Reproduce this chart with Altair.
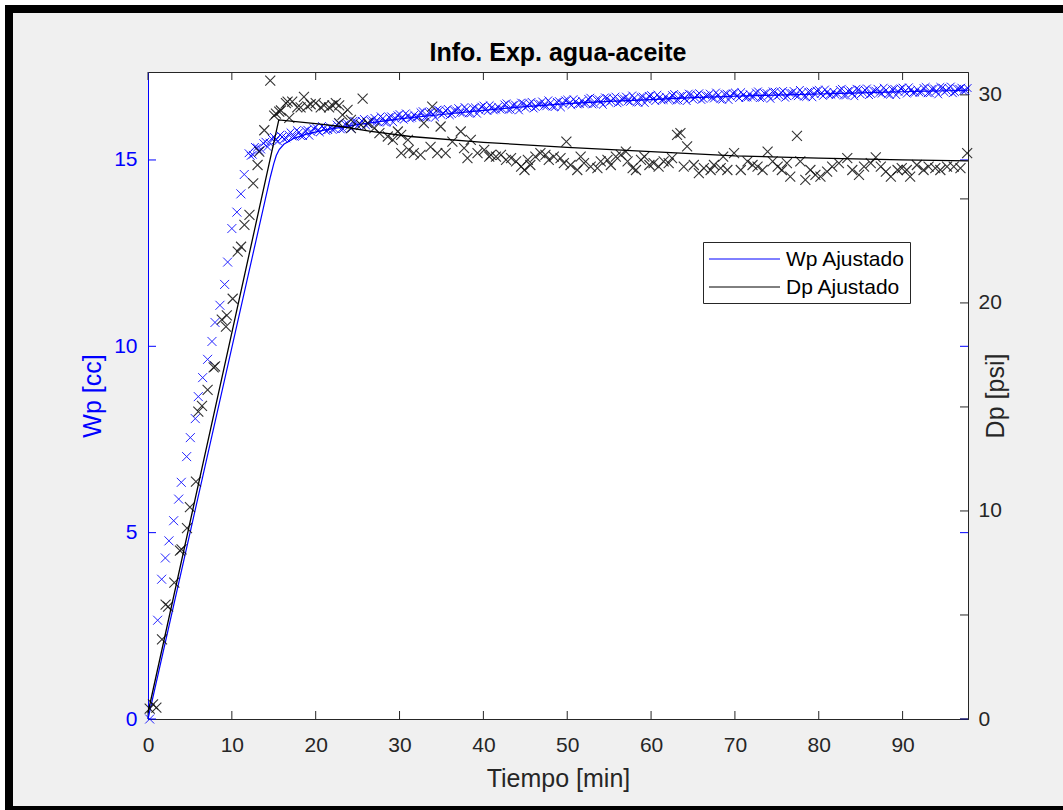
import altair as alt
import pandas as pd

# ---------------- data ----------------
series_names = ["Wp Ajustado", "Dp Ajustado"]
x_ticks = [0, 10, 20, 30, 40, 50, 60, 70, 80, 90]
wp_ticks = [0, 5, 10, 15]
dp_ticks = [0, 10, 20, 30]
dp_minor = [0, 5, 10, 15, 20, 25, 30]

# Wp measured (early, sparse part)
wp_t_early = [0.2, 1.15, 1.63, 2.07, 2.5, 3.06, 3.66, 3.97, 4.61, 5.05, 5.64, 6.0,
              6.52, 7.11, 7.63, 7.99, 8.58, 9.14, 9.5, 10.0, 10.6, 11.08, 11.48]
wp_early = [0.0, 2.65, 3.75, 4.32, 4.78, 5.32, 5.9, 6.35, 7.04, 7.55, 8.06, 8.65,
            9.16, 9.65, 10.13, 10.64, 11.1, 11.66, 12.26, 13.16, 13.6, 14.09, 14.61]

# Wp measured (dense band), first row of samples
wp_t_band = [12.0, 12.5, 13.0, 13.5, 14.0, 14.5, 15.0, 15.5, 16.0, 16.5,
             17.0, 17.5, 18.0, 18.5, 19.0, 19.5, 20.0, 20.5, 21.0, 21.5,
             22.0, 22.5, 23.0, 23.5, 24.0, 24.5, 25.0, 25.5, 26.0, 26.5,
             27.0, 27.5, 28.0, 28.5, 29.0, 29.5, 30.0, 30.5, 31.0, 31.5,
             32.0, 32.5, 33.0, 33.5, 34.0, 34.5, 35.0, 35.5, 36.0, 36.5,
             37.0, 37.5, 38.0, 38.5, 39.0, 39.5, 40.0, 40.5, 41.0, 41.5,
             42.0, 42.5, 43.0, 43.5, 44.0, 44.5, 45.0, 45.5, 46.0, 46.5,
             47.0, 47.5, 48.0, 48.5, 49.0, 49.5, 50.0, 50.5, 51.0, 51.5,
             52.0, 52.5, 53.0, 53.5, 54.0, 54.5, 55.0, 55.5, 56.0, 56.5,
             57.0, 57.5, 58.0, 58.5, 59.0, 59.5, 60.0, 60.5, 61.0, 61.5,
             62.0, 62.5, 63.0, 63.5, 64.0, 64.5, 65.0, 65.5, 66.0, 66.5,
             67.0, 67.5, 68.0, 68.5, 69.0, 69.5, 70.0, 70.5, 71.0, 71.5,
             72.0, 72.5, 73.0, 73.5, 74.0, 74.5, 75.0, 75.5, 76.0, 76.5,
             77.0, 77.5, 78.0, 78.5, 79.0, 79.5, 80.0, 80.5, 81.0, 81.5,
             82.0, 82.5, 83.0, 83.5, 84.0, 84.5, 85.0, 85.5, 86.0, 86.5,
             87.0, 87.5, 88.0, 88.5, 89.0, 89.5, 90.0, 90.5, 91.0, 91.5,
             92.0, 92.5, 93.0, 93.5, 94.0, 94.5, 95.0, 95.5, 96.0, 96.5,
             97.0, 97.5]
wp_band = [15.18, 15.14, 15.33, 15.28, 15.49, 15.46, 15.62, 15.50, 15.62, 15.58,
           15.74, 15.62, 15.74, 15.64, 15.81, 15.75, 15.88, 15.74, 15.85, 15.80,
           15.81, 15.95, 15.82, 15.96, 15.91, 16.05, 15.92, 16.05, 15.93, 16.06,
           16.13, 16.01, 16.11, 16.01, 16.17, 16.11, 16.23, 16.08, 16.19, 16.13,
           16.14, 16.28, 16.14, 16.27, 16.22, 16.35, 16.21, 16.33, 16.20, 16.33,
           16.39, 16.26, 16.36, 16.25, 16.41, 16.34, 16.46, 16.31, 16.41, 16.35,
           16.36, 16.49, 16.34, 16.47, 16.41, 16.54, 16.40, 16.52, 16.38, 16.51,
           16.57, 16.44, 16.53, 16.42, 16.58, 16.51, 16.62, 16.47, 16.57, 16.50,
           16.51, 16.64, 16.49, 16.62, 16.56, 16.68, 16.54, 16.65, 16.52, 16.64,
           16.70, 16.56, 16.66, 16.54, 16.70, 16.62, 16.74, 16.58, 16.68, 16.61,
           16.62, 16.74, 16.59, 16.72, 16.65, 16.78, 16.63, 16.74, 16.61, 16.73,
           16.78, 16.65, 16.74, 16.62, 16.78, 16.70, 16.81, 16.66, 16.75, 16.68,
           16.69, 16.81, 16.66, 16.79, 16.72, 16.84, 16.70, 16.81, 16.67, 16.80,
           16.85, 16.71, 16.81, 16.69, 16.84, 16.77, 16.88, 16.72, 16.82, 16.75,
           16.75, 16.88, 16.73, 16.85, 16.79, 16.91, 16.76, 16.88, 16.74, 16.86,
           16.91, 16.78, 16.87, 16.75, 16.91, 16.83, 16.94, 16.78, 16.88, 16.81,
           16.81, 16.93, 16.79, 16.91, 16.84, 16.96, 16.82, 16.93, 16.79, 16.91,
           16.94, 16.86]

# Wp measured (dense band), interleaved second row of samples
wp_t_band2 = [12.25, 12.75, 13.25, 13.75, 14.25, 14.75, 15.25, 15.75, 16.25, 16.75,
              17.25, 17.75, 18.25, 18.75, 19.25, 19.75, 20.25, 20.75, 21.25, 21.75,
              22.25, 22.75, 23.25, 23.75, 24.25, 24.75, 25.25, 25.75, 26.25, 26.75,
              27.25, 27.75, 28.25, 28.75, 29.25, 29.75, 30.25, 30.75, 31.25, 31.75,
              32.25, 32.75, 33.25, 33.75, 34.25, 34.75, 35.25, 35.75, 36.25, 36.75,
              37.25, 37.75, 38.25, 38.75, 39.25, 39.75, 40.25, 40.75, 41.25, 41.75,
              42.25, 42.75, 43.25, 43.75, 44.25, 44.75, 45.25, 45.75, 46.25, 46.75,
              47.25, 47.75, 48.25, 48.75, 49.25, 49.75, 50.25, 50.75, 51.25, 51.75,
              52.25, 52.75, 53.25, 53.75, 54.25, 54.75, 55.25, 55.75, 56.25, 56.75,
              57.25, 57.75, 58.25, 58.75, 59.25, 59.75, 60.25, 60.75, 61.25, 61.75,
              62.25, 62.75, 63.25, 63.75, 64.25, 64.75, 65.25, 65.75, 66.25, 66.75,
              67.25, 67.75, 68.25, 68.75, 69.25, 69.75, 70.25, 70.75, 71.25, 71.75,
              72.25, 72.75, 73.25, 73.75, 74.25, 74.75, 75.25, 75.75, 76.25, 76.75,
              77.25, 77.75, 78.25, 78.75, 79.25, 79.75, 80.25, 80.75, 81.25, 81.75,
              82.25, 82.75, 83.25, 83.75, 84.25, 84.75, 85.25, 85.75, 86.25, 86.75,
              87.25, 87.75, 88.25, 88.75, 89.25, 89.75, 90.25, 90.75, 91.25, 91.75,
              92.25, 92.75, 93.25, 93.75, 94.25, 94.75, 95.25, 95.75, 96.25, 96.75,
              97.25, 97.75]
wp_band2 = [15.11, 15.35, 15.25, 15.45, 15.35, 15.57, 15.53, 15.67, 15.56, 15.68,
            15.63, 15.80, 15.64, 15.79, 15.65, 15.85, 15.78, 15.91, 15.78, 15.88,
            15.83, 15.99, 15.83, 15.98, 15.84, 16.04, 15.97, 16.10, 15.96, 16.07,
            16.02, 16.17, 16.01, 16.15, 16.01, 16.20, 16.12, 16.25, 16.11, 16.21,
            16.16, 16.31, 16.14, 16.29, 16.14, 16.33, 16.25, 16.37, 16.23, 16.33,
            16.27, 16.42, 16.25, 16.39, 16.24, 16.43, 16.35, 16.47, 16.33, 16.43,
            16.37, 16.52, 16.35, 16.49, 16.33, 16.52, 16.44, 16.56, 16.42, 16.51,
            16.45, 16.60, 16.43, 16.56, 16.41, 16.60, 16.52, 16.63, 16.49, 16.59,
            16.52, 16.67, 16.50, 16.63, 16.48, 16.66, 16.58, 16.70, 16.55, 16.65,
            16.58, 16.73, 16.55, 16.69, 16.53, 16.72, 16.63, 16.75, 16.60, 16.70,
            16.63, 16.77, 16.60, 16.73, 16.58, 16.76, 16.67, 16.79, 16.64, 16.73,
            16.67, 16.81, 16.63, 16.77, 16.61, 16.79, 16.71, 16.82, 16.67, 16.77,
            16.70, 16.84, 16.67, 16.80, 16.64, 16.83, 16.74, 16.85, 16.71, 16.80,
            16.73, 16.88, 16.70, 16.83, 16.68, 16.86, 16.77, 16.89, 16.74, 16.83,
            16.77, 16.91, 16.73, 16.87, 16.71, 16.89, 16.81, 16.92, 16.77, 16.86,
            16.80, 16.94, 16.76, 16.90, 16.74, 16.92, 16.83, 16.95, 16.80, 16.89,
            16.82, 16.96, 16.79, 16.92, 16.76, 16.94, 16.86, 16.97, 16.82, 16.91,
            16.85, 16.93]

# Dp measured
dp_t = [0.2, 0.6, 1.0, 1.67, 2.1, 2.4, 3.14, 3.81, 4.0, 4.65, 5.0, 5.72, 6.0, 6.44,
        7.11, 7.83, 8.0, 8.8, 9.3, 9.4, 10.1, 10.7, 11.1, 11.5, 12.1, 12.55, 13.07,
        13.27, 13.87, 14.58, 15.05, 15.26, 15.65, 15.85, 16.45, 16.65, 16.85, 17.2,
        17.8, 18.2, 18.6, 19.0, 19.4, 20.0, 20.6, 21.0, 21.6, 22.0, 22.4, 22.8, 22.8,
        23.2, 23.8, 24.2, 24.2, 25.4, 25.6, 26.2, 27.0, 27.6, 28.6, 29.2, 29.8, 30.2,
        30.2, 31.0, 31.1, 31.7, 32.5, 32.9, 33.7, 33.9, 34.5, 34.9, 35.5, 36.3, 37.3,
        37.7, 38.1, 38.5, 39.3, 40.1, 40.7, 40.9, 41.5, 42.1, 42.7, 43.3, 43.9, 44.5,
        44.9, 45.3, 45.6, 46.2, 46.8, 47.4, 47.8, 48.4, 49.2, 49.6, 49.9, 50.4, 51.2,
        51.6, 52.0, 52.8, 53.6, 54.0, 54.8, 55.2, 55.8, 56.4, 57.0, 57.2, 57.8, 58.2,
        58.8, 59.2, 59.8, 60.3, 60.9, 61.5, 62.1, 62.5, 63.1, 63.5, 63.9, 64.3, 65.1,
        65.7, 66.3, 67.1, 67.5, 68.3, 68.6, 69.1, 69.9, 70.7, 71.5, 72.1, 72.7, 73.3,
        73.9, 74.5, 75.1, 75.6, 76.2, 76.6, 77.4, 77.8, 78.4, 79.0, 79.6, 80.2, 81.0,
        81.6, 82.4, 83.4, 84.0, 84.8, 85.4, 86.2, 86.8, 87.4, 88.0, 88.6, 89.4, 89.9,
        90.5, 90.9, 91.7, 92.5, 93.1, 93.9, 94.5, 95.3, 96.1, 96.9, 97.7]
dp_v = [0.5, 0.7, 0.55, 3.83, 5.5, 5.4, 6.55, 8.09, 8.15, 9.17, 10.18, 11.41, 14.77, 15.05,
        15.82, 16.9, 16.95, 19.2, 18.86, 19.4, 20.2, 22.47, 22.7, 23.75, 24.23, 25.75, 26.63,
        27.27, 28.3, 30.69, 29.0, 29.1, 29.2, 29.25, 29.6, 29.68, 28.9, 29.68,
        29.4, 29.4, 29.9, 29.45, 29.55, 29.6, 29.4, 29.5, 29.4, 29.5, 29.6, 29.5, 28.64,
        29.04, 29.28, 28.4, 28.8, 28.56, 29.82, 28.64, 28.4, 28.16, 28.0, 27.84, 28.24, 28.08,
        27.2, 27.84, 27.36, 27.2, 27.12, 28.64, 27.5, 29.44, 27.2, 28.48, 27.2, 27.75, 28.24,
        27.44, 26.96, 27.84, 27.2, 27.36, 27.03, 27.12, 27.03, 27.12, 26.88, 26.96, 26.8, 26.55,
        26.39, 26.88, 26.63, 27.03, 27.2, 27.12, 26.88, 27.03, 26.96, 26.72, 27.75, 26.63, 26.39,
        27.03, 26.72, 26.55, 26.48, 26.8, 26.88, 26.63, 27.03, 27.12, 27.27, 26.8, 26.48, 26.39,
        26.88, 27.03, 26.63, 26.72, 26.55, 26.8, 26.72, 26.96, 28.08, 28.16, 26.55, 27.52, 26.63,
        26.24, 26.48, 26.39, 26.63, 26.48, 27.03, 26.39, 27.2, 26.39, 26.8, 26.63, 26.55, 26.39,
        27.27, 26.8, 26.55, 26.39, 26.72, 26.07, 28.03, 26.8, 25.91, 26.39, 26.15, 26.07, 26.31,
        26.55, 26.72, 26.96, 26.39, 26.15, 26.55, 26.72, 27.0, 26.55, 26.31, 26.07, 26.39, 26.48,
        26.39, 26.07, 26.63, 26.39, 26.55, 26.48, 26.39, 26.55, 26.55, 26.48, 27.2]

# Fitted curves
wp_fit_t = [0, 14.6, 15.0, 15.3, 15.65, 16.2, 17.4, 19, 21, 25, 30, 35, 40, 45, 50, 55,
            60, 65, 70, 75, 80, 85, 90, 97.8]
wp_fit = [0, 14.55, 14.9, 15.12, 15.28, 15.42, 15.58, 15.7, 15.8, 15.95, 16.1, 16.22,
          16.33, 16.43, 16.51, 16.57, 16.62, 16.67, 16.71, 16.74, 16.77, 16.8, 16.83, 16.87]
dp_fit_t = [0, 15.6, 20, 23, 26.6, 31.3, 40, 50, 60, 70, 80, 90, 97.8]
dp_fit = [0.3, 28.8, 28.62, 28.48, 28.25, 28.0, 27.72, 27.48, 27.27, 27.07, 26.96, 26.88, 26.83]

# ---------------- styling ----------------
BLUE = "#0000ff"
DARK = "#262626"
FONT = "Liberation Sans"
W, H = 820, 647
XPATH = "M-1,-1L1,1M1,-1L-1,1"
series_colors = [BLUE, "#000000"]

x_scale = alt.Scale(domain=[0, 97.8], nice=False, zero=False)
wp_scale = alt.Scale(domain=[0, 17.36], nice=False, zero=False)
dp_scale = alt.Scale(domain=[0, 31.1], nice=False, zero=False)

x_axis = alt.Axis(values=x_ticks, title="Tiempo [min]", ticks=False, grid=False,
                  domainColor=DARK, labelColor=DARK, labelFont=FONT, labelFontSize=21,
                  labelPadding=15, labelFlush=False, titleFont=FONT, titleFontSize=25,
                  titleFontWeight="normal", titleColor=DARK, titlePadding=11, format="d")
left_axis = alt.Axis(values=wp_ticks, title="Wp [cc]", orient="left", ticks=False, grid=False,
                     domainColor=BLUE, labelColor=BLUE, labelFont=FONT, labelFontSize=21,
                     labelPadding=11, labelFlush=False, titleFont=FONT, titleColor=BLUE,
                     titleFontSize=25, titleFontWeight="normal", titleAngle=270, titleX=-56,
                     titleY=H / 2, titleBaseline="middle", titleAlign="center", format="d")
right_axis = alt.Axis(values=dp_ticks, title="Dp [psi]", orient="right", ticks=False, grid=False,
                      domainColor=DARK, labelColor=DARK, labelFont=FONT, labelFontSize=21,
                      labelPadding=10, labelFlush=False, titleFont=FONT, titleColor=DARK,
                      titleFontSize=25, titleFontWeight="normal", titleAngle=270, titleX=27,
                      titleY=H / 2, titleBaseline="middle", titleAlign="center", format="d")

X = alt.X("t:Q", scale=x_scale, axis=x_axis)
stroke_enc = alt.Stroke("serie:N", scale=alt.Scale(domain=series_names, range=series_colors),
                        legend=None)

# ---------------- figure frame ----------------
frame_df = pd.DataFrame({"k": [0]})
def band(x, x2, y, y2, color, stroke=None):
    kw = {"color": color}
    if stroke is not None:
        kw.update(stroke=stroke, strokeWidth=1)
    return alt.Chart(frame_df).mark_rect(**kw).encode(
        x=alt.value(x), x2=alt.value(x2), y=alt.value(y), y2=alt.value(y2))

frames = alt.layer(
    band(-148, 915, -72, -67, "#ffffff"),
    band(-148, -143, -72, 738, "#ffffff"),
    band(-143, 915, -67, -59, "#000000"),
    band(-143, -135, -67, 738, "#000000"),
    band(-143, 915, 734, 738, "#000000"),
)

# ---------------- legend box (drawn) ----------------
legend_layers = [band(555.5, 762.5, 170.5, 231.5, "#ffffff", stroke=DARK)]
for i, name in enumerate(series_names):
    row_df = pd.DataFrame({"serie": [name]})
    yy = 187 + 28 * i
    legend_layers.append(
        alt.Chart(row_df).mark_rule(strokeWidth=1).encode(
            x=alt.value(561), x2=alt.value(632), y=alt.value(yy), stroke=stroke_enc))
    legend_layers.append(
        alt.Chart(row_df).mark_text(align="left", baseline="middle", font=FONT, fontSize=21,
                                    color="#000000").encode(
            x=alt.value(638), y=alt.value(yy + 1), text="serie:N"))
legend = alt.layer(*legend_layers)

# ---------------- x ticks ----------------
xt_df = pd.DataFrame({"t": x_ticks})
xticks_bottom = alt.Chart(xt_df).mark_rule(color=DARK, strokeWidth=1).encode(
    x=X, y=alt.value(H), y2=alt.value(H - 8))
xticks_top = alt.Chart(xt_df).mark_rule(color=DARK, strokeWidth=1).encode(
    x=X, y=alt.value(0), y2=alt.value(8))

# ---------------- left (Wp) ----------------
wp_early_df = pd.DataFrame({"t": wp_t_early, "v": wp_early})
wp_band_df = pd.DataFrame({"t": wp_t_band + wp_t_band2, "v": wp_band + wp_band2})
wp_fit_df = pd.DataFrame({"t": wp_fit_t, "v": wp_fit, "serie": series_names[0]})
wpt_df = pd.DataFrame({"v": wp_ticks})
YL = alt.Y("v:Q", scale=wp_scale, axis=left_axis)

wp_pts = alt.Chart(wp_early_df).mark_point(shape=XPATH, filled=False, size=81, color=BLUE,
                                           strokeWidth=1, opacity=0.85).encode(x=X, y=YL)
wp_band_pts = alt.Chart(wp_band_df).mark_point(shape=XPATH, filled=False, size=60, color=BLUE,
                                               strokeWidth=1, opacity=0.9).encode(x=X, y=YL)
wp_line = alt.Chart(wp_fit_df).mark_line(strokeWidth=1.2).encode(x=X, y=YL, stroke=stroke_enc)
wp_tl = alt.Chart(wpt_df).mark_rule(color=BLUE).encode(y=YL, x=alt.value(0), x2=alt.value(8))
wp_tr = alt.Chart(wpt_df).mark_rule(color=BLUE).encode(y=YL, x=alt.value(W - 8), x2=alt.value(W))
left = alt.layer(wp_pts, wp_band_pts, wp_line, wp_tl, wp_tr)

# ---------------- right (Dp) ----------------
dp_df = pd.DataFrame({"t": dp_t, "v": dp_v})
dp_fit_df = pd.DataFrame({"t": dp_fit_t, "v": dp_fit, "serie": series_names[1]})
dpt_df = pd.DataFrame({"v": dp_minor})
YR = alt.Y("v:Q", scale=dp_scale, axis=right_axis)

dp_pts = alt.Chart(dp_df).mark_point(shape=XPATH, filled=False, size=100, color="#111111",
                                     strokeWidth=1.1, opacity=0.85).encode(x=X, y=YR)
dp_line = alt.Chart(dp_fit_df).mark_line(strokeWidth=1.3).encode(x=X, y=YR, stroke=stroke_enc)
dp_tr = alt.Chart(dpt_df).mark_rule(color=DARK).encode(y=YR, x=alt.value(W - 8), x2=alt.value(W))
right = alt.layer(dp_pts, dp_line, dp_tr)

chart = alt.layer(frames, xticks_bottom, xticks_top, left, right, legend).resolve_scale(
    y="independent"
).properties(
    width=W, height=H,
    title=alt.TitleParams("Info. Exp. agua-aceite", font=FONT, fontSize=25, fontWeight="bold",
                          color="#000000", anchor="middle", frame="group", offset=12, dy=78),
    padding={"left": 148, "top": 72, "right": 95, "bottom": 91},
    autosize=alt.AutoSizeParams(type="none"),
).configure(background="#f0f0f0").configure_view(fill="white", stroke=DARK, strokeWidth=1)

chart.save("out.html", embed_options={"renderer": "svg", "actions": False})
